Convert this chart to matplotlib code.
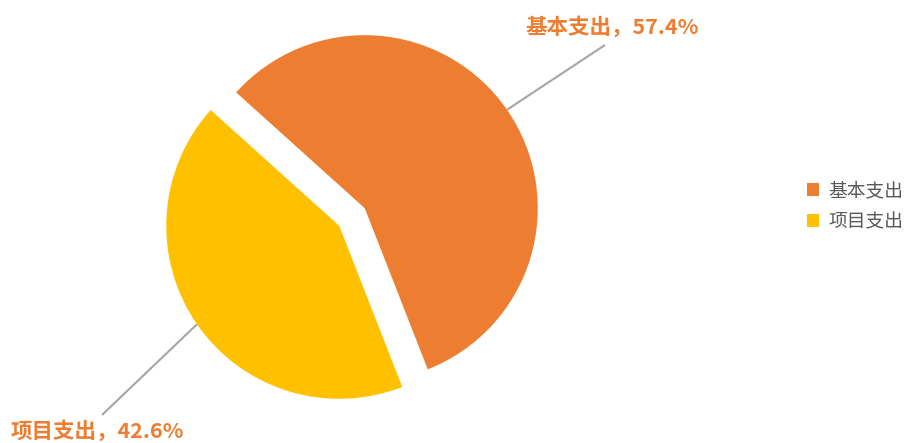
import matplotlib.pyplot as plt
from matplotlib.patches import Patch
import numpy as np

plt.rcParams['font.family'] = ['Noto Sans CJK SC', 'DejaVu Sans']

# data
labels = ['基本支出', '项目支出']
values = [57.4, 42.6]
colors = ['#ED7D31', '#FFC000']

W, H = 910, 443
fig = plt.figure(figsize=(W / 100, H / 100), dpi=100)
ax = fig.add_axes([0, 0, 1, 1])

cx, cy = 352, H - 217
radius = 173
wedges, _ = ax.pie(values, colors=colors, startangle=138, counterclock=False,
                   center=(cx, cy), radius=radius, explode=[15.5, 15.5],
                   wedgeprops=dict(linewidth=0))
ax.set_xlim(0, W)
ax.set_ylim(0, H)
ax.set_aspect('equal')
ax.axis('off')

# leader lines and labels
label_pos = [(612, H - 27), (97, H - 431)]
line_ends = [(605, H - 45), (102, H - 415)]
for w, lab, v, (tx, ty), (lx, ly) in zip(wedges, labels, values, label_pos, line_ends):
    ang = np.deg2rad((w.theta1 + w.theta2) / 2)
    x0 = w.center[0] + w.r * np.cos(ang)
    y0 = w.center[1] + w.r * np.sin(ang)
    ax.plot([x0, lx], [y0, ly], color='#A5A5A5', lw=1.5, solid_capstyle='butt')
    ax.text(tx, ty, f'{lab}，{v}%', color='#ED7D31', fontsize=15.5,
            fontweight='bold', ha='center', va='center')

handles = [Patch(facecolor=c, edgecolor='none', label=l) for c, l in zip(colors, labels)]
fig.legend(handles=handles, loc='center left', bbox_to_anchor=(790 / W, 1 - 206 / H),
           frameon=False, fontsize=13.5, labelcolor='#595959',
           handlelength=0.65, handleheight=0.65, handletextpad=0.5, labelspacing=0.55)

fig.savefig('out.png', dpi=100)
